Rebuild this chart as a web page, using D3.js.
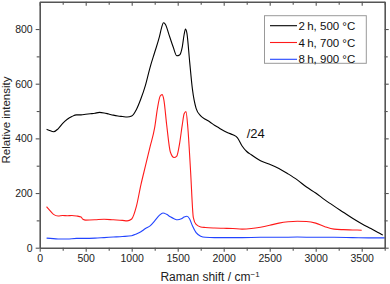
<!DOCTYPE html>
<html>
<head>
<meta charset="utf-8">
<script src="https://cdn.jsdelivr.net/npm/d3@7"></script>
<style>
  html, body { margin: 0; padding: 0; background: #fff; }
  svg { display: block; font-family: "Liberation Sans", Arial, sans-serif; }
</style>
</head>
<body>
<svg id="chart" width="390" height="284"></svg>
<script>
// ---- data ----
const seriesLabels = ["2\u2009h, 500 \u00B0C", "4\u2009h, 700 \u00B0C", "8\u2009h, 900 \u00B0C"];
const seriesColors = ["#000000", "#ff1a1a", "#2244ff"];

const blackShift = [75, 100, 150, 200, 250, 300, 350, 400, 450, 500, 550, 600, 650, 700, 750, 800, 850, 900, 950, 1000,
  1050, 1100, 1150, 1200, 1250, 1300, 1325, 1345, 1370, 1400, 1450, 1490, 1520, 1550, 1570, 1585, 1600, 1630, 1660,
  1700, 1750, 1800, 1850, 1900, 1950, 2000, 2050, 2100, 2150, 2200, 2250, 2300, 2400, 2500, 2600, 2700, 2800, 2900,
  3000, 3100, 3200, 3300, 3400, 3500, 3600, 3700, 3730];
const blackIntensity = [433, 430, 424, 435, 455, 470, 480, 486, 486, 488, 490, 492, 495, 493, 489, 485, 482, 480, 478, 482,
  505, 545, 595, 660, 715, 770, 805, 823, 815, 785, 735, 702, 705, 735, 780, 800, 785, 680, 580,
  510, 482, 470, 460, 448, 438, 428, 420, 413, 402, 372, 352, 340, 318, 305, 290, 270, 248, 222,
  200, 175, 152, 130, 108, 88, 70, 52, 46];

const redShift = [75, 100, 150, 200, 250, 300, 350, 400, 450, 470, 500, 600, 700, 800, 900, 950, 1000, 1050, 1100, 1150,
  1200, 1250, 1280, 1310, 1330, 1350, 1380, 1420, 1460, 1490, 1520, 1550, 1570, 1590, 1610, 1640, 1670, 1700, 1750,
  1800, 1900, 2000, 2100, 2200, 2300, 2400, 2500, 2600, 2700, 2800, 2900, 3000, 3100, 3200, 3300, 3400, 3500];
const redIntensity = [150, 140, 122, 116, 118, 117, 118, 116, 112, 104, 101, 102, 104, 102, 100, 98, 105, 150, 230, 300,
  370, 440, 510, 555, 560, 540, 450, 350, 330, 335, 380, 450, 490, 498, 440, 280, 110, 85, 76,
  74, 72, 71, 70, 68, 70, 75, 82, 90, 95, 97, 96, 90, 77, 68, 66, 65, 64];

const blueShift = [75, 200, 300, 400, 500, 600, 700, 800, 900, 1000, 1050, 1100, 1150, 1200, 1250, 1300, 1340, 1380,
  1420, 1460, 1500, 1540, 1570, 1600, 1630, 1660, 1700, 1750, 1800, 1900, 2000, 2200, 2400, 2600, 2800, 3000, 3200,
  3400, 3600, 3750];
const blueIntensity = [35, 32, 32, 34, 34, 35, 37, 39, 41, 44, 50, 58, 70, 80, 98, 118, 127, 122,
  113, 106, 102, 106, 112, 115, 105, 80, 55, 42, 38, 37, 37, 37, 38, 38, 39, 38, 38,
  37, 36, 36];

const xMajorTicks = [0, 500, 1000, 1500, 2000, 2500, 3000, 3500];
const xMinorTicks = [250, 750, 1250, 1750, 2250, 2750, 3250, 3750];
const yMajorTicks = [0, 200, 400, 600, 800];
const yMinorTicks = [100, 300, 500, 700];

const xTitle = "Raman shift / cm";
const yTitle = "Relative intensity";
const annotation = "/24";

// ---- drawing ----
const svg = d3.select("#chart");
const x = d3.scaleLinear().domain([0, 3750]).range([39.7, 384.7]);
const y = d3.scaleLinear().domain([0, 900]).range([247.7, 1.7]);
const axisColor = "#555";
const fmt = d3.format("d");

const series = [
  {xs: blackShift, ys: blackIntensity},
  {xs: redShift, ys: redIntensity},
  {xs: blueShift, ys: blueIntensity}
];

const line = d3.line().x(d => x(d[0])).y(d => y(d[1])).curve(d3.curveMonotoneX);

[2, 1, 0].forEach(i => {
  const s = series[i];
  const pts = s.xs.map((v, j) => [v, s.ys[j]]);
  svg.append("path")
    .attr("d", line(pts))
    .attr("fill", "none")
    .attr("stroke", seriesColors[i])
    .attr("stroke-width", 1.1)
    .attr("stroke-linejoin", "round");
});

function styleAxis(g) {
  g.select(".domain").attr("stroke", axisColor).attr("stroke-width", 1.6);
  g.selectAll(".tick line").attr("stroke", axisColor).attr("stroke-width", 1.1);
  g.selectAll(".tick text").attr("fill", "#222").style("font-size", "10.5px")
    .style("font-family", "'Liberation Sans', Arial, sans-serif");
}
function minor(g) {
  g.select(".domain").remove();
  g.selectAll("line").attr("stroke", axisColor).attr("stroke-width", 1.1);
}

// bottom axis
const gB = svg.append("g").attr("transform", `translate(0,${y(0)})`)
  .call(d3.axisBottom(x).tickValues(xMajorTicks).tickFormat(fmt).tickSizeInner(4).tickSizeOuter(0).tickPadding(3));
styleAxis(gB);
svg.append("g").attr("transform", `translate(0,${y(0)})`)
  .call(d3.axisBottom(x).tickValues(xMinorTicks).tickSize(3).tickFormat(""))
  .call(minor);

// top axis (ticks inward)
const gT = svg.append("g").attr("transform", `translate(0,${y(900)})`)
  .call(d3.axisBottom(x).tickValues(xMajorTicks).tickSizeInner(4).tickSizeOuter(0).tickFormat(""));
styleAxis(gT);
svg.append("g").attr("transform", `translate(0,${y(900)})`)
  .call(d3.axisBottom(x).tickValues(xMinorTicks).tickSize(3).tickFormat(""))
  .call(minor);

// left axis
const gL = svg.append("g").attr("transform", `translate(${x(0)},0)`)
  .call(d3.axisLeft(y).tickValues(yMajorTicks).tickFormat(fmt).tickSizeInner(4).tickSizeOuter(0).tickPadding(3));
styleAxis(gL);
svg.append("g").attr("transform", `translate(${x(0)},0)`)
  .call(d3.axisLeft(y).tickValues(yMinorTicks).tickSize(3).tickFormat(""))
  .call(minor);

// right axis (ticks inward)
const gR = svg.append("g").attr("transform", `translate(${x(3750)},0)`)
  .call(d3.axisLeft(y).tickValues(yMajorTicks).tickSizeInner(-4).tickSizeOuter(0).tickFormat(""));
styleAxis(gR);
svg.append("g").attr("transform", `translate(${x(3750)},0)`)
  .call(d3.axisLeft(y).tickValues(yMinorTicks).tickSize(-3).tickFormat(""))
  .call(minor);

// axis titles
const xt = svg.append("text")
  .attr("x", 210).attr("y", 281)
  .attr("text-anchor", "middle")
  .attr("fill", "#222")
  .style("font-size", "12px")
  .text(xTitle);
xt.append("tspan").attr("dy", -4).style("font-size", "8px").text("\u22121");

svg.append("text")
  .attr("transform", "translate(10,120) rotate(-90)")
  .attr("text-anchor", "middle")
  .attr("fill", "#222")
  .style("font-size", "11.5px")
  .text(yTitle);

// annotation
svg.append("text")
  .attr("x", x(2250)).attr("y", y(400))
  .attr("fill", "#111")
  .style("font-size", "13px")
  .text(annotation);

// legend
const lg = svg.append("g");
lg.append("rect")
  .attr("x", 264.5).attr("y", 15.7).attr("width", 101.8).attr("height", 47.6)
  .attr("fill", "#fff").attr("stroke", "#999").attr("stroke-width", 1);
seriesLabels.forEach((lab, i) => {
  const cy = 25.7 + i * 16.8;
  lg.append("line").attr("x1", 270).attr("x2", 297).attr("y1", cy).attr("y2", cy)
    .attr("stroke", seriesColors[i]).attr("stroke-width", 1.1);
  lg.append("text").attr("x", 298.5).attr("y", cy + 4)
    .attr("fill", "#111").style("font-size", "11.5px").text(lab);
});
</script>
</body>
</html>
